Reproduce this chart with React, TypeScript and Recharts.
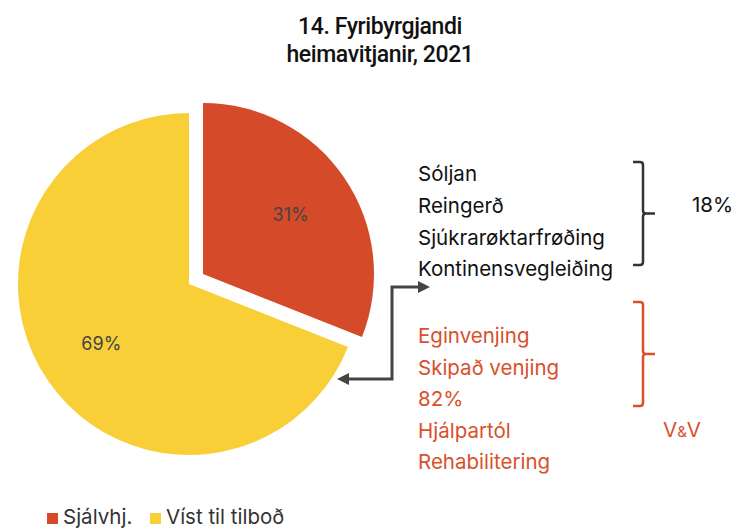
import { PieChart, Pie, Cell } from 'recharts';

const segments = ['Sjálvhj.', 'Víst til tilboð'];
const shares = [31, 69];
const colors = ['#D54B29', '#F8CF36'];

const titleLines = ['14. Fyribyrgjandi', 'heimavitjanir, 2021'];
const topItems = ['Sóljan', 'Reingerð', 'Sjúkrarøktarfrøðing', 'Kontinensvegleiðing'];
const topShare = '18%';
const bottomItems = ['Eginvenjing', 'Skipað venjing', '82%', 'Hjálpartól', 'Rehabilitering'];

const data = segments.map((name, i) => ({ name, value: shares[i] }));

const FONT = 'Inter, "Open Sans", sans-serif';
const TEXT = '#111';
const ORANGE = '#D9502C';
const GREY = '#444';
const RADIAN = Math.PI / 180;

// label renderer that only draws the slice shown by this pie
const makeLabel = (visible: number) => (props: any) => {
  const { cx, cy, midAngle, outerRadius, index, value } = props;
  if (index !== visible) return null;
  const r = outerRadius * 0.62;
  const x = cx + r * Math.cos(-midAngle * RADIAN);
  const y = cy + r * Math.sin(-midAngle * RADIAN);
  return (
    <text x={x} y={y} fill="#444" fontSize={18} fontFamily={FONT} textAnchor="middle" dominantBaseline="central">
      {`${value}%`}
    </text>
  );
};

const Brace = ({ top, bottom, color }: { top: number; bottom: number; color: string }) => {
  const mid = (top + bottom) / 2;
  const x = 643;
  return (
    <path
      d={`M633,${top} L${x - 3},${top} Q${x},${top} ${x},${top + 3} L${x},${mid - 3} Q${x},${mid} ${x + 3},${mid} L655,${mid} M${x + 3},${mid} Q${x},${mid} ${x},${mid + 3} L${x},${bottom - 3} Q${x},${bottom} ${x - 3},${bottom} L633,${bottom}`}
      fill="none"
      stroke={color}
      strokeWidth={2.5}
    />
  );
};

const App = () => {
  return (
    <div style={{ position: 'absolute', left: 0, top: 0, width: 737, height: 528, background: '#fff' }}>
      <PieChart width={737} height={528} margin={{ top: 0, right: 0, bottom: 0, left: 0 }}>
        {/* main body of the pie, the share that is offered */}
        <Pie
          data={data}
          dataKey="value"
          cx={189}
          cy={284}
          outerRadius={171}
          startAngle={90}
          endAngle={-270}
          stroke="none"
          label={makeLabel(1)}
          labelLine={false}
          isAnimationActive={false}
        >
          {data.map((d, i) => (
            <Cell key={d.name} fill={i === 1 ? colors[i] : 'transparent'} />
          ))}
        </Pie>
        {/* exploded slice */}
        <Pie
          data={data}
          dataKey="value"
          cx={203}
          cy={274}
          outerRadius={171}
          startAngle={90}
          endAngle={-270}
          stroke="none"
          label={makeLabel(0)}
          labelLine={false}
          isAnimationActive={false}
        >
          {data.map((d, i) => (
            <Cell key={d.name} fill={i === 0 ? colors[i] : 'transparent'} />
          ))}
        </Pie>
      </PieChart>

      <svg width={737} height={528} style={{ position: 'absolute', left: 0, top: 0, pointerEvents: 'none' }}>
        {titleLines.map((t, i) => (
          <text
            key={t}
            x={380}
            y={34 + i * 28}
            textAnchor="middle"
            fontFamily='Roboto, sans-serif'
            fontWeight={500}
            fontSize={23}
            letterSpacing={-0.4}
            fill={TEXT}
          >
            {t}
          </text>
        ))}

        {topItems.map((t, i) => (
          <text key={t} x={418} y={181 + i * 31.8} fontFamily={FONT} fontSize={20.5} fill={TEXT}>
            {t}
          </text>
        ))}
        <Brace top={162} bottom={265} color="#333" />
        <text x={692} y={212} fontFamily={FONT} fontSize={20.5} fill={TEXT}>
          {topShare}
        </text>

        {bottomItems.map((t, i) => (
          <text key={t} x={418} y={343 + i * 31.5} fontFamily={FONT} fontSize={20.5} fill={ORANGE}>
            {t}
          </text>
        ))}
        <Brace top={302} bottom={406} color={ORANGE} />
        <text x={663} y={437} fontFamily={FONT} fontSize={20.5} fill={ORANGE}>
          V<tspan fontSize={15}>&amp;</tspan>V
        </text>

        {/* arrows between the pie and the lists */}
        <path d="M349,379 L392,379 L392,287 L420,287" fill="none" stroke={GREY} strokeWidth={3} />
        <path d="M430,287 L418,281 L418,293 Z" fill={GREY} />
        <path d="M337,379 L349,373 L349,385 Z" fill={GREY} />

        {segments.map((s, i) => {
          const x = i === 0 ? 47 : 150;
          return (
            <g key={s}>
              <rect x={x} y={513} width={11} height={11} fill={colors[i]} />
              <text x={x + 16} y={524} fontFamily={FONT} fontSize={20.5} fill="#333">
                {s}
              </text>
            </g>
          );
        })}
      </svg>
    </div>
  );
};

export default App;
